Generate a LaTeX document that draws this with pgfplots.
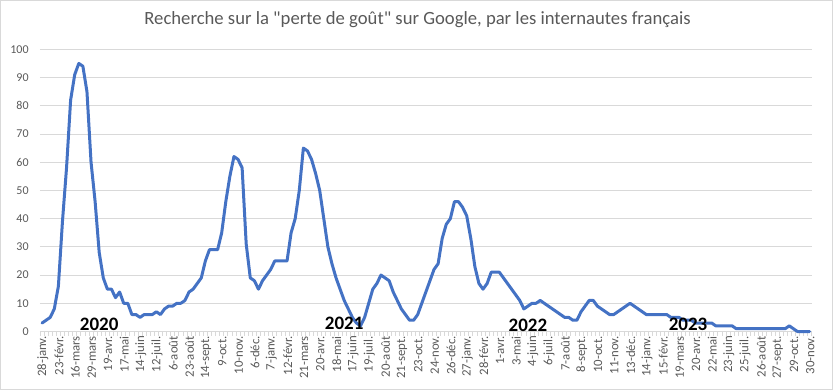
\documentclass[border=0pt]{standalone}
\usepackage{fontspec}
\setmainfont{Carlito}[Ligatures=TeXOff]
\usepackage{pgfplots}
\pgfplotsset{compat=1.18}
\definecolor{lineblue}{HTML}{4472C4}
\definecolor{gridgray}{HTML}{D9D9D9}
\definecolor{txtgray}{HTML}{595959}
\begin{document}
\begin{tikzpicture}[x=0.75pt,y=0.75pt]
\path[use as bounding box] (0,0) rectangle (833,390);
\draw[gridgray, line width=0.75pt] (0.5,0.5) rectangle (832.5,389.5);
\begin{axis}[
  at={(30pt,43.875pt)}, anchor=south west,
  scale only axis, width=578.8pt, height=211.65pt,
  xmin=-0.5, xmax=188.5, ymin=0, ymax=100,
  clip=false,
  axis x line*=bottom, axis y line*=left,
  x axis line style={gridgray, line width=0.75pt, -},
  y axis line style={draw=none},
  ytick={0,10,...,100},
  ymajorgrids, grid style={gridgray, line width=0.6pt},
  xtick={0,4,...,188},
  minor xtick={-0.5,0.5,...,188.5},
  major tick length=0pt, minor tick length=3pt,
  tick align=outside,
  minor x tick style={gridgray, line width=0.6pt},
  ytick style={draw=none},
  /pgf/number format/assume math mode=true,
  yticklabel style={font=\fontsize{9}{9}\selectfont, text=txtgray, xshift=-5pt},
  xticklabel style={rotate=90, anchor=east, font=\fontsize{9.6}{9.6}\selectfont, text=txtgray, yshift=-0.5pt},
  xticklabels={{28-janv.},{23-févr.},{16-mars},{29-mars},{19-avr.},{17-mai},{14-juin},{12-juil.},{6-août},{23-août},{14-sept.},{9-oct.},{10-nov.},{6-déc.},{7-janv.},{12-févr.},{21-mars},{20-avr.},{18-mai},{17-juin},{19-juil.},{20-août},{21-sept.},{23-oct.},{24-nov.},{26-déc.},{27-janv.},{28-févr.},{1-avr.},{3-mai},{4-juin},{6-juil.},{7-août},{8-sept.},{10-oct.},{11-nov.},{13-déc.},{14-janv.},{15-févr.},{19-mars},{20-avr.},{22-mai},{23-juin},{25-juil.},{26-août},{27-sept.},{29-oct.},{30-nov.}},
]
\addplot[lineblue, line width=2.25pt, line join=round, line cap=round] coordinates {
(0,3)(1,4)(2,5)(3,8)(4,16)(5,39)(6,58)(7,82)(8,91)(9,95)
(10,94)(11,85)(12,60)(13,46)(14,28)(15,19)(16,15)(17,15)(18,12)(19,14)
(20,10)(21,10)(22,6)(23,6)(24,5)(25,6)(26,6)(27,6)(28,7)(29,6)
(30,8)(31,9)(32,9)(33,10)(34,10)(35,11)(36,14)(37,15)(38,17)(39,19)
(40,25)(41,29)(42,29)(43,29)(44,35)(45,46)(46,55)(47,62)(48,61)(49,58)
(50,31)(51,19)(52,18)(53,15)(54,18)(55,20)(56,22)(57,25)(58,25)(59,25)
(60,25)(61,35)(62,40)(63,50)(64,65)(65,64)(66,61)(67,56)(68,50)(69,40)
(70,30)(71,24)(72,19)(73,15)(74,11)(75,8)(76,5)(77,3)(78,2)(79,5)
(80,10)(81,15)(82,17)(83,20)(84,19)(85,18)(86,14)(87,11)(88,8)(89,6)
(90,4)(91,4)(92,6)(93,10)(94,14)(95,18)(96,22)(97,24)(98,33)(99,38)
(100,40)(101,46)(102,46)(103,44)(104,41)(105,33)(106,23)(107,17)(108,15)(109,17)
(110,21)(111,21)(112,21)(113,19)(114,17)(115,15)(116,13)(117,11)(118,8)(119,9)
(120,10)(121,10)(122,11)(123,10)(124,9)(125,8)(126,7)(127,6)(128,5)(129,5)
(130,4)(131,4)(132,7)(133,9)(134,11)(135,11)(136,9)(137,8)(138,7)(139,6)
(140,6)(141,7)(142,8)(143,9)(144,10)(145,9)(146,8)(147,7)(148,6)(149,6)
(150,6)(151,6)(152,6)(153,6)(154,5)(155,5)(156,5)(157,4)(158,4)(159,4)
(160,3)(161,3)(162,3)(163,3)(164,3)(165,2)(166,2)(167,2)(168,2)(169,2)
(170,1)(171,1)(172,1)(173,1)(174,1)(175,1)(176,1)(177,1)(178,1)(179,1)
(180,1)(181,1)(182,1)(183,2)(184,1)(185,0)(186,0)(187,0)(188,0)
};
\node[font=\bfseries\fontsize{14.25}{14.25}\selectfont] at (axis cs:14,2.66) {2020};
\node[font=\bfseries\fontsize{14.25}{14.25}\selectfont] at (axis cs:74,3) {2021};
\node[font=\bfseries\fontsize{14.25}{14.25}\selectfont] at (axis cs:119,2.3) {2022};
\node[font=\bfseries\fontsize{14.25}{14.25}\selectfont] at (axis cs:158.2,2.66) {2023};
\end{axis}
\node[font=\fontsize{14}{16}\selectfont, text=txtgray] at (417.5,370) {Recherche sur la "perte de goût" sur Google, par les internautes français};
\end{tikzpicture}
\end{document}
